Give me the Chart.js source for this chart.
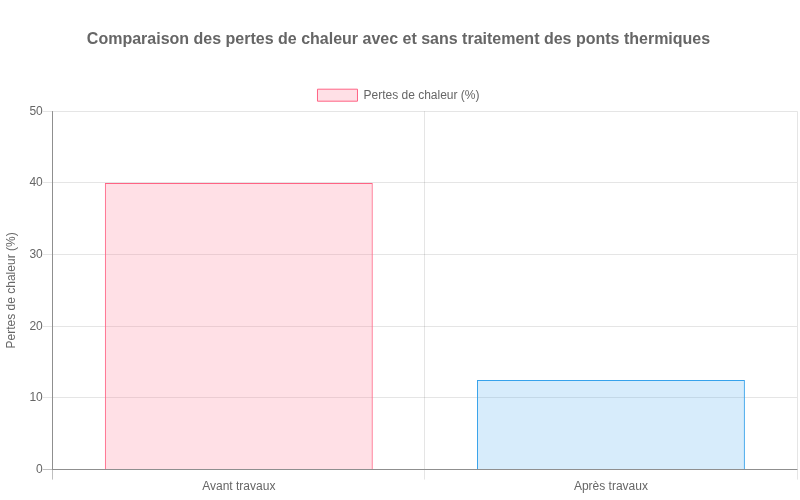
<!DOCTYPE html>
<html><head><meta charset="utf-8">
<script src="https://cdn.jsdelivr.net/npm/chart.js@4"></script>
<style>html,body{margin:0;padding:0;background:#fff}#wrap{width:800px;height:500px}</style>
</head><body><div id="wrap"><canvas id="c"></canvas></div>
<script>
const categories = ["Avant travaux", "Après travaux"];
const values = [40, 12.5];
const seriesLabel = "Pertes de chaleur (%)";
const bgColors = ["rgba(255, 99, 132, 0.2)", "rgba(54, 162, 235, 0.2)"];
const borderColors = ["rgba(255, 99, 132, 1)", "rgba(54, 162, 235, 1)"];

const gridLight = 'rgba(0,0,0,0.1)';
const gridDark = 'rgba(0,0,0,0.25)';

new Chart(document.getElementById('c'), {
  type: 'bar',
  data: {
    labels: categories,
    datasets: [{
      label: seriesLabel,
      data: values,
      backgroundColor: bgColors,
      borderColor: borderColors,
      borderWidth: 1
    }]
  },
  options: {
    responsive: true,
    maintainAspectRatio: false,
    animation: false,
    layout: { padding: { top: 10, right: 3, bottom: 6 } },
    plugins: {
      title: {
        display: true,
        text: "Comparaison des pertes de chaleur avec et sans traitement des ponts thermiques",
        font: { size: 16, weight: 'bold' },
        padding: { top: 20, bottom: 30 }
      },
      legend: { display: true }
    },
    scales: {
      x: {
        ticks: { padding: 0 },
        grid: {
          tickLength: 10,
          color: (ctx) => ctx.index === 0 ? gridDark : gridLight
        },
        border: { color: gridDark }
      },
      y: {
        beginAtZero: true,
        max: 50,
        ticks: { stepSize: 10, padding: 0 },
        grid: {
          tickLength: 10,
          color: (ctx) => (ctx.tick && ctx.tick.value === 0) ? gridDark : gridLight
        },
        border: { color: gridDark },
        title: { display: true, text: "Pertes de chaleur (%)", padding: { top: 4, bottom: 11 } }
      }
    }
  }
});
</script></body></html>
